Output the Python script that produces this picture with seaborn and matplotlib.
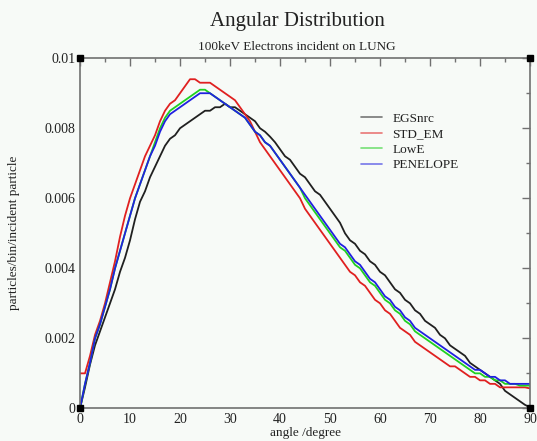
import numpy as np
import pandas as pd
import matplotlib
matplotlib.use("Agg")
import matplotlib.pyplot as plt
import seaborn as sns
from matplotlib.ticker import MultipleLocator
from matplotlib.lines import Line2D

angle = list(range(0, 91))

egsnrc = [0.0, 0.0006, 0.00125, 0.0018, 0.0022, 0.0026, 0.0030, 0.0034, 0.0039, 0.0043,
          0.0048, 0.0054, 0.0059, 0.0062, 0.0066, 0.0069, 0.0072, 0.0075, 0.0077, 0.0078,
          0.0080, 0.0081, 0.0082, 0.0083, 0.0084, 0.0085, 0.0085, 0.0086, 0.0086, 0.0087,
          0.0086, 0.0086, 0.0085, 0.0084, 0.0083, 0.0082, 0.0080, 0.0079, 0.00776, 0.0076,
          0.0074, 0.0072, 0.0071, 0.0069, 0.0067, 0.0066, 0.0064, 0.0062, 0.0061, 0.0059,
          0.0057, 0.0055, 0.0053, 0.0050, 0.0048, 0.0047, 0.0045, 0.0044, 0.0042, 0.0041,
          0.0039, 0.0038, 0.0036, 0.0034, 0.0033, 0.0031, 0.0030, 0.0028, 0.0027, 0.0025,
          0.0024, 0.0023, 0.0021, 0.0020, 0.0018, 0.0017, 0.0016, 0.0015, 0.0013, 0.0012,
          0.0011, 0.0010, 0.0009, 0.0008, 0.0007, 0.0005, 0.0004, 0.0003, 0.0002, 0.0001,
          0.00003]

std_em = [0.0010, 0.0010, 0.0015, 0.0021, 0.0025, 0.0030, 0.0036, 0.0042, 0.0049, 0.0055,
          0.0060, 0.0064, 0.0068, 0.0072, 0.0075, 0.0078, 0.0082, 0.0085, 0.0087, 0.0088,
          0.0090, 0.0092, 0.0094, 0.0094, 0.0093, 0.0093, 0.0093, 0.0092, 0.0091, 0.0090,
          0.0089, 0.0088, 0.0086, 0.0084, 0.0082, 0.0079, 0.0076, 0.0074, 0.0072, 0.0070,
          0.0068, 0.0066, 0.0064, 0.0062, 0.0060, 0.0057, 0.0055, 0.0053, 0.0051, 0.0049,
          0.0047, 0.0045, 0.0043, 0.0041, 0.0039, 0.0038, 0.0036, 0.0035, 0.0033, 0.0031,
          0.0030, 0.0028, 0.0027, 0.0025, 0.0023, 0.0022, 0.0021, 0.0019, 0.0018, 0.0017,
          0.0016, 0.0015, 0.0014, 0.0013, 0.0012, 0.0012, 0.0011, 0.0010, 0.0009, 0.0009,
          0.0008, 0.0008, 0.0007, 0.0007, 0.0006, 0.0006, 0.0006, 0.0006, 0.0006, 0.0006,
          0.00057]

lowe = [0.0, 0.0007, 0.0013, 0.0020, 0.0024, 0.0029, 0.0034, 0.0040, 0.0045, 0.0050,
        0.0055, 0.0060, 0.0064, 0.0068, 0.0072, 0.0076, 0.0080, 0.0083, 0.0085, 0.0086,
        0.0087, 0.0088, 0.0089, 0.0090, 0.0091, 0.0091, 0.0090, 0.0089, 0.0088, 0.0087,
        0.0086, 0.0085, 0.0084, 0.0083, 0.0081, 0.0079, 0.0078, 0.0076, 0.0075, 0.0073,
        0.0071, 0.0069, 0.0067, 0.0065, 0.0063, 0.0060, 0.0058, 0.0056, 0.0054, 0.0052,
        0.0050, 0.0048, 0.0046, 0.0045, 0.0043, 0.0041, 0.0040, 0.0038, 0.0036, 0.0035,
        0.0033, 0.0031, 0.0030, 0.0028, 0.0027, 0.0025, 0.0024, 0.0022, 0.0021, 0.0020,
        0.0019, 0.0018, 0.0017, 0.0016, 0.0015, 0.0014, 0.0013, 0.0012, 0.0011, 0.0010,
        0.0010, 0.0009, 0.0009, 0.0008, 0.0008, 0.0007, 0.0007, 0.0007, 0.00065, 0.00065,
        0.00065]

penelope = [0.0, 0.0007, 0.0013, 0.0020, 0.0024, 0.0029, 0.0034, 0.0040, 0.0045, 0.0050,
            0.0055, 0.0060, 0.0064, 0.0068, 0.0072, 0.0075, 0.0079, 0.0082, 0.0084, 0.0085,
            0.0086, 0.0087, 0.0088, 0.0089, 0.0090, 0.0090, 0.0090, 0.0089, 0.0088, 0.0087,
            0.0086, 0.0085, 0.0084, 0.0083, 0.0081, 0.0079, 0.0078, 0.0076, 0.0075, 0.0073,
            0.0071, 0.0069, 0.0067, 0.0065, 0.0063, 0.0061, 0.0059, 0.0057, 0.0055, 0.0053,
            0.0051, 0.0049, 0.0047, 0.0046, 0.0044, 0.0042, 0.0041, 0.0039, 0.0037, 0.0036,
            0.0034, 0.0032, 0.0031, 0.0029, 0.0028, 0.0026, 0.0025, 0.0023, 0.0022, 0.0021,
            0.0020, 0.0019, 0.0018, 0.0017, 0.0016, 0.0015, 0.0014, 0.0013, 0.0012, 0.0011,
            0.0011, 0.0010, 0.0009, 0.0009, 0.0008, 0.0008, 0.0007, 0.0007, 0.0007, 0.0007,
            0.0007]

series_names = ["EGSnrc", "STD_EM", "LowE", "PENELOPE"]
series_vals = [egsnrc, std_em, lowe, penelope]
colors = ["#202020", "#e02020", "#20d020", "#2020e0"]

df = pd.concat([pd.DataFrame({"angle": angle, "value": v, "model": n})
                for n, v in zip(series_names, series_vals)], ignore_index=True)

sns.set_theme(style="white")
plt.rcParams["font.family"] = ["Liberation Serif", "DejaVu Serif"]

bg = "#f7faf7"
fig = plt.figure(figsize=(5.37, 4.41), dpi=100, facecolor=bg)
ax = fig.add_axes([0.149, 0.074, 0.838, 0.794])
ax.set_facecolor(bg)

sns.lineplot(data=df, x="angle", y="value", hue="model", hue_order=series_names,
             palette=dict(zip(series_names, colors)), ax=ax, linewidth=1.3,
             legend=False)

ax.set_xlim(0, 90)
ax.set_ylim(0, 0.01)
ax.xaxis.set_major_locator(MultipleLocator(10))
ax.xaxis.set_minor_locator(MultipleLocator(5))
ax.set_yticks([0, 0.002, 0.004, 0.006, 0.008, 0.01])
ax.set_yticklabels(["0", "0.002", "0.004", "0.006", "0.008", "0.01"])
ax.yaxis.set_minor_locator(MultipleLocator(0.001))
ax.tick_params(which="both", direction="in", top=True, right=True, color="#707070",
               labelsize=10, pad=3, labelcolor="#222222")
ax.tick_params(which="major", length=6, width=1)
ax.tick_params(which="minor", length=3, width=1)
for s in ax.spines.values():
    s.set_color("#707070")
    s.set_linewidth(1.2)

# small corner squares of the frame
ax.plot([0, 0, 1, 1], [0, 1, 1, 0], linestyle="none", marker="s", markersize=4,
        color="black", transform=ax.transAxes, clip_on=False, zorder=5)

ax.set_xlabel("angle /degree", fontsize=9.5, labelpad=1, color="#222222")
ax.set_ylabel("particles/bin/incident particle", fontsize=9.5, labelpad=18, color="#222222")

fig.text(0.553, 0.951, "Angular Distribution", ha="center", va="center",
         fontsize=15, color="#222222")
fig.text(0.553, 0.894, "100keV Electrons incident on LUNG", ha="center", va="center",
         fontsize=9.5, color="#222222")

handles = [Line2D([0], [0], color=c, lw=1.2, alpha=0.6) for c in colors]
leg = ax.legend(handles, series_names, loc="upper left", bbox_to_anchor=(0.624, 0.845),
                frameon=False, fontsize=9.5, handlelength=1.6, handletextpad=0.8,
                labelspacing=0.25, borderpad=0, borderaxespad=0)
for t in leg.get_texts():
    t.set_color("#222222")

fig.savefig("out.png", dpi=100, facecolor=bg)
